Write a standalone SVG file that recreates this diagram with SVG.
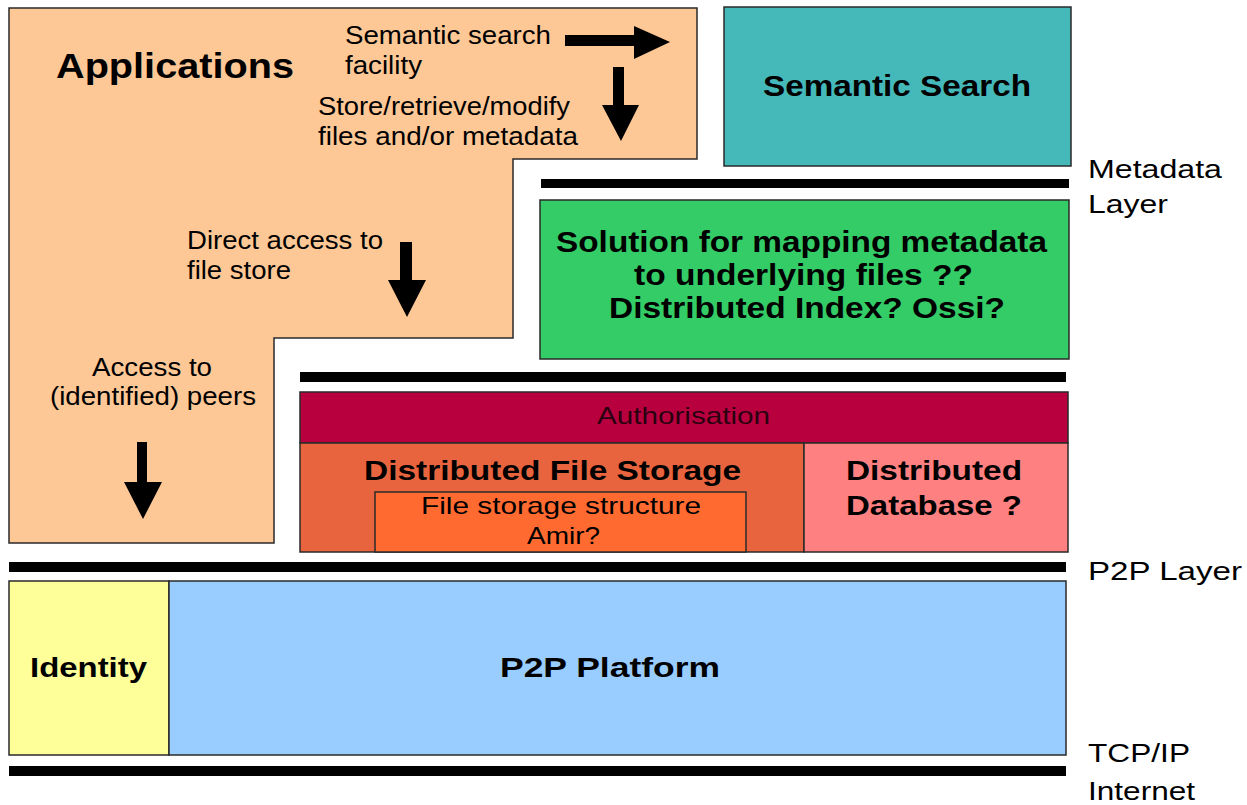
<svg xmlns="http://www.w3.org/2000/svg" width="1247" height="805" viewBox="0 0 1247 805">
<style>
.box{stroke:#2a2a2a;stroke-width:1.5}
.bar{fill:#000}
.arr{fill:#000}
text{font-family:"Liberation Sans",Arial,sans-serif;fill:#000}
.b{font-weight:bold}
</style>
<rect width="1247" height="805" fill="#fff"/>
<g id="applications">
<polygon class="box" fill="#FDC896" points="9,8 697,8 697,159 513,159 513,338 274,338 274,543 9,543"/>
<text class="b" x="56" y="78" font-size="35" textLength="238" lengthAdjust="spacingAndGlyphs">Applications</text>
<text x="345" y="44" font-size="25" textLength="206" lengthAdjust="spacingAndGlyphs">Semantic search</text>
<text x="345" y="74" font-size="25" textLength="77" lengthAdjust="spacingAndGlyphs">facility</text>
<text x="318" y="115" font-size="25" textLength="252" lengthAdjust="spacingAndGlyphs">Store/retrieve/modify</text>
<text x="318" y="145" font-size="25" textLength="260" lengthAdjust="spacingAndGlyphs">files and/or metadata</text>
<text x="187" y="249" font-size="25" textLength="196" lengthAdjust="spacingAndGlyphs">Direct access to</text>
<text x="187" y="279" font-size="25" textLength="104" lengthAdjust="spacingAndGlyphs">file store</text>
<text x="92" y="376" font-size="25" textLength="120" lengthAdjust="spacingAndGlyphs">Access to</text>
<text x="50" y="405" font-size="25" textLength="206" lengthAdjust="spacingAndGlyphs">(identified) peers</text>
</g>
<g id="semantic-search">
<rect class="box" x="724" y="7" width="347" height="159" fill="#45B8BA"/>
<text class="b" x="763" y="96" font-size="30" textLength="268" lengthAdjust="spacingAndGlyphs">Semantic Search</text>
</g>
<g id="mapping">
<rect class="box" x="540" y="200" width="529" height="159" fill="#33CC66"/>
<text class="b" x="556" y="252" font-size="29" textLength="491" lengthAdjust="spacingAndGlyphs">Solution for mapping metadata</text>
<text class="b" x="634" y="285" font-size="29" textLength="339" lengthAdjust="spacingAndGlyphs">to underlying files ??</text>
<text class="b" x="609" y="318" font-size="29" textLength="396" lengthAdjust="spacingAndGlyphs">Distributed Index? Ossi?</text>
</g>
<g id="authorisation">
<rect class="box" x="300" y="392" width="768" height="51" fill="#B8003E"/>
<text x="597" y="424" font-size="24" textLength="173" lengthAdjust="spacingAndGlyphs" style="fill:#2a0010">Authorisation</text>
</g>
<g id="file-storage">
<rect class="box" x="300" y="443" width="504" height="109" fill="#E8643E"/>
<text class="b" x="364" y="480" font-size="28" textLength="377" lengthAdjust="spacingAndGlyphs">Distributed File Storage</text>
</g>
<g id="file-structure">
<rect class="box" x="375" y="492" width="371" height="60" fill="#FF6A30"/>
<text x="421" y="514" font-size="24" textLength="280" lengthAdjust="spacingAndGlyphs">File storage structure</text>
<text x="527" y="544" font-size="24" textLength="73" lengthAdjust="spacingAndGlyphs">Amir?</text>
</g>
<g id="database">
<rect class="box" x="804" y="443" width="264" height="109" fill="#FF8080"/>
<text class="b" x="846" y="480" font-size="28" textLength="176" lengthAdjust="spacingAndGlyphs">Distributed</text>
<text class="b" x="846" y="515" font-size="28" textLength="176" lengthAdjust="spacingAndGlyphs">Database ?</text>
</g>
<g id="identity">
<rect class="box" x="9" y="581" width="160" height="174" fill="#FFFF99"/>
<text class="b" x="30" y="677" font-size="28" textLength="117" lengthAdjust="spacingAndGlyphs">Identity</text>
</g>
<g id="p2p-platform">
<rect class="box" x="169" y="581" width="897" height="174" fill="#99CCFF"/>
<text class="b" x="500" y="677" font-size="28" textLength="220" lengthAdjust="spacingAndGlyphs">P2P Platform</text>
</g>
<g id="layers">
<rect class="bar" x="541" y="179" width="528" height="9"/>
<rect class="bar" x="300" y="372" width="766" height="10"/>
<rect class="bar" x="9" y="562" width="1057" height="10"/>
<rect class="bar" x="9" y="766" width="1057" height="10"/>
<text x="1088" y="178" font-size="26" textLength="134" lengthAdjust="spacingAndGlyphs">Metadata</text>
<text x="1088" y="213" font-size="26" textLength="80" lengthAdjust="spacingAndGlyphs">Layer</text>
<text x="1088" y="580" font-size="26" textLength="154" lengthAdjust="spacingAndGlyphs">P2P Layer</text>
<text x="1088" y="762" font-size="26" textLength="102" lengthAdjust="spacingAndGlyphs">TCP/IP</text>
<text x="1088" y="800" font-size="26" textLength="107" lengthAdjust="spacingAndGlyphs">Internet</text>
</g>
<g id="connectors">
<polygon class="arr" points="565,35 634,35 634,26 670,42 634,59 634,46 565,46"/>
<polygon class="arr" points="613,67 624,67 624,105 639,105 621,141 602,105 613,105"/>
<polygon class="arr" points="400,242 412,242 412,280 426,280 407,317 388,280 400,280"/>
<polygon class="arr" points="137,442 147,442 147,482 162,482 143,519 124,482 137,482"/>
</g>
</svg>
